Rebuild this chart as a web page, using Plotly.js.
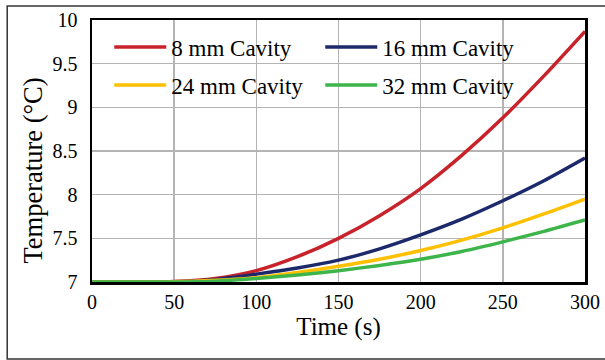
<!DOCTYPE html>
<html>
<head>
<meta charset="utf-8">
<script src="https://cdn.plot.ly/plotly-3.0.1.min.js"></script>
<style>
html,body{margin:0;padding:0;background:#fff;}
#chart{width:605px;height:360px;}
</style>
</head>
<body>
<div id="chart"></div>
<script>
const time = [0, 25, 50, 75, 100, 125, 150, 175, 200, 225, 250, 275, 300];
const cavity8  = [7.00, 7.00, 7.005, 7.04, 7.13, 7.29, 7.50, 7.76, 8.07, 8.45, 8.88, 9.36, 9.87];
const cavity16 = [7.00, 7.00, 7.003, 7.03, 7.09, 7.16, 7.25, 7.38, 7.54, 7.72, 7.93, 8.16, 8.42];
const cavity24 = [7.00, 7.00, 7.002, 7.02, 7.05, 7.11, 7.18, 7.26, 7.36, 7.48, 7.62, 7.78, 7.95];
const cavity32 = [7.00, 7.00, 7.001, 7.01, 7.04, 7.08, 7.13, 7.19, 7.26, 7.35, 7.46, 7.58, 7.71];
const seriesNames = ['8 mm Cavity', '16 mm Cavity', '24 mm Cavity', '32 mm Cavity'];
const xTicks = [0, 50, 100, 150, 200, 250, 300];
const yTicks = [7, 7.5, 8, 8.5, 9, 9.5, 10];
const yTickText = ['7', '7.5', '8', '8.5', '9', '9.5', '10'];

const colors = ['#C8232B', '#1C2A6B', '#FFC000', '#3DB54A'];
const seriesData = [cavity8, cavity16, cavity24, cavity32];
const legendOf = ['legend', 'legend', 'legend2', 'legend2'];
const font = 'Liberation Serif';

const traces = seriesData.map((ys, i) => ({
  x: time, y: ys, type: 'scatter', mode: 'lines', name: seriesNames[i],
  line: {color: colors[i], width: 3.5, shape: 'spline', smoothing: 0.8},
  legend: legendOf[i]
}));

const legendBase = {
  orientation: 'h', xanchor: 'left', yanchor: 'middle',
  bgcolor: 'rgba(0,0,0,0)', borderwidth: 0,
  font: {family: font, size: 23, color: '#000'},
  entrywidth: 144, entrywidthmode: 'pixels', itemwidth: 52,
  traceorder: 'normal'
};

const layout = {
  width: 605, height: 360,
  margin: {l: 92, r: 20, t: 20, b: 78},
  paper_bgcolor: '#fff', plot_bgcolor: '#fff',
  font: {family: font, color: '#000'},
  showlegend: true,
  legend: Object.assign({}, legendBase, {x: 0.035, y: 0.897}),
  legend2: Object.assign({}, legendBase, {x: 0.035, y: 0.752}),
  xaxis: {
    range: [0, 300], tickvals: xTicks, ticks: '',
    showgrid: true, gridcolor: '#b4b4b4', gridwidth: 1.5,
    showline: true, linecolor: '#000', linewidth: 2.5, mirror: true,
    zeroline: false, tickfont: {family: font, size: 20, color: '#000'},
    title: {text: 'Time (s)', font: {family: font, size: 25, color: '#000'}, standoff: 6}
  },
  yaxis: {
    range: [7, 10], tickvals: yTicks, ticktext: yTickText, ticks: '',
    showgrid: true, gridcolor: '#b4b4b4', gridwidth: 1.5,
    showline: true, linecolor: '#000', linewidth: 2.5, mirror: true,
    zeroline: false, tickfont: {family: font, size: 20, color: '#000'},
    ticklabelstandoff: 8
  },
  annotations: [{
    text: 'Temperature (°C)', textangle: -90, showarrow: false,
    xref: 'paper', yref: 'paper', x: -0.12, y: 0.425, xanchor: 'center', yanchor: 'middle',
    font: {family: font, size: 26.5, color: '#000'}
  }],
  shapes: [{
    type: 'rect', xref: 'paper', yref: 'paper', layer: 'above',
    x0: -0.172, x1: 1.2, y0: -0.294, y1: 1.053,
    line: {color: '#333', width: 1.5}
  }]
};

Plotly.newPlot('chart', traces, layout, {displayModeBar: false, staticPlot: true});
</script>
</body>
</html>
